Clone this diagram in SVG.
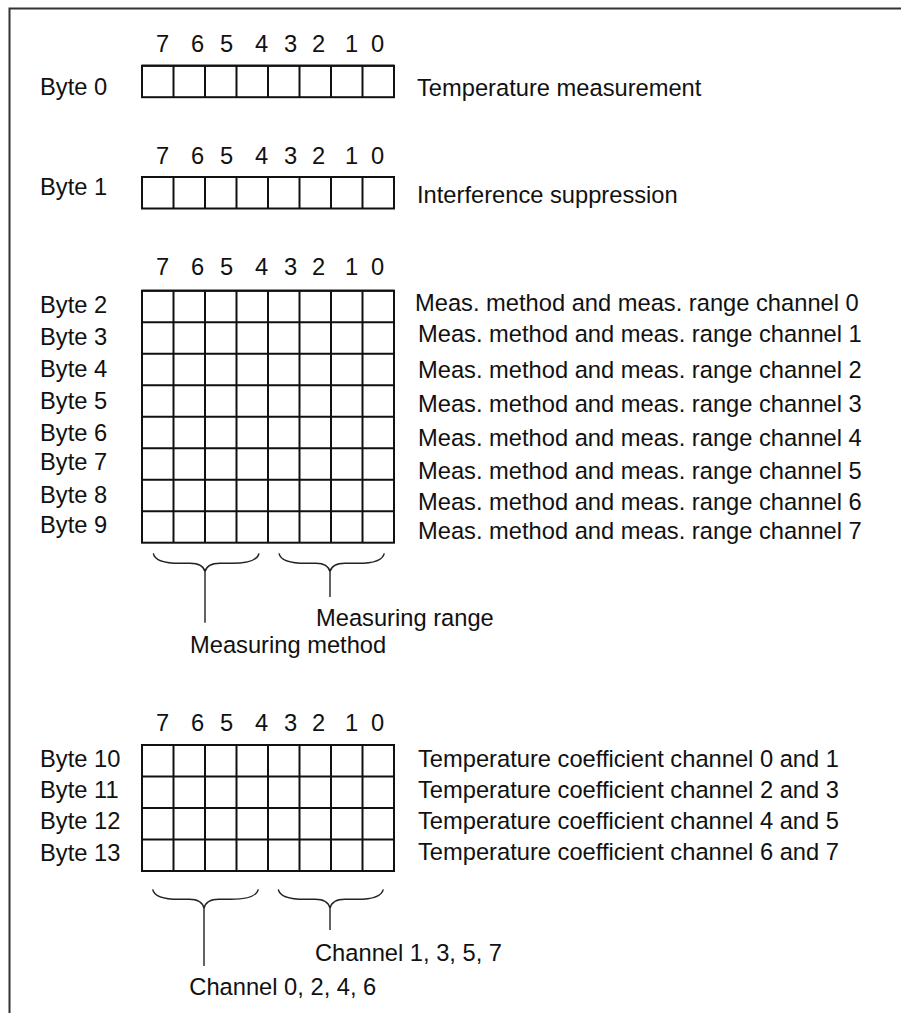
<svg xmlns="http://www.w3.org/2000/svg" width="901" height="1013" viewBox="0 0 901 1013">
<style>
text{font-family:"Liberation Sans",Arial,sans-serif;font-size:23.7px;fill:#111}
.bits{text-anchor:middle}
.grid{fill:none;stroke:#111;stroke-width:2}
.brace{fill:none;stroke:#222;stroke-width:1.4}
.frame{fill:none;stroke:#333;stroke-width:2}
</style>
<defs>
<path id="row8" d="M142,0 H394 M173.5,0 V31.5 M205,0 V31.5 M236.5,0 V31.5 M268,0 V31.5 M299.5,0 V31.5 M331,0 V31.5 M362.5,0 V31.5"/>
</defs>
<rect width="901" height="1013" fill="#fff"/>
<g id="frame">
<path class="frame" d="M9.5,1013 V8.5 H901"/>
</g>

<g id="byte0">
<text class="bits" x="162.7 197.5 226.5 261.5 290.5 318.5 351.5 377.7" y="52">76543210</text>
<text x="40" y="95">Byte 0</text>
<rect class="grid" x="142" y="65.7" width="252" height="31.5"/>
<use href="#row8" class="grid" y="65.7"/>
<text x="417" y="96">Temperature measurement</text>
</g>

<g id="byte1">
<text class="bits" x="162.7 197.5 226.5 261.5 290.5 318.5 351.5 377.7" y="163.5">76543210</text>
<text x="40" y="195">Byte 1</text>
<rect class="grid" x="142" y="177" width="252" height="31.5"/>
<use href="#row8" class="grid" y="177"/>
<text x="417" y="203">Interference suppression</text>
</g>

<g id="bytes2to9">
<text class="bits" x="162.7 197.5 226.5 261.5 290.5 318.5 351.5 377.7" y="275">76543210</text>
<rect class="grid" x="142" y="290.7" width="252" height="252"/>
<use href="#row8" class="grid" y="290.7"/>
<use href="#row8" class="grid" y="322.2"/>
<use href="#row8" class="grid" y="353.7"/>
<use href="#row8" class="grid" y="385.2"/>
<use href="#row8" class="grid" y="416.7"/>
<use href="#row8" class="grid" y="448.2"/>
<use href="#row8" class="grid" y="479.7"/>
<use href="#row8" class="grid" y="511.2"/>
<text x="40" y="313">Byte 2</text>
<text x="40" y="345">Byte 3</text>
<text x="40" y="377">Byte 4</text>
<text x="40" y="409">Byte 5</text>
<text x="40" y="441">Byte 6</text>
<text x="40" y="470">Byte 7</text>
<text x="40" y="503">Byte 8</text>
<text x="40" y="533">Byte 9</text>
<text x="415" y="310.5">Meas. method and meas. range channel 0</text>
<text x="418" y="342">Meas. method and meas. range channel 1</text>
<text x="418" y="378">Meas. method and meas. range channel 2</text>
<text x="418" y="412">Meas. method and meas. range channel 3</text>
<text x="418" y="446">Meas. method and meas. range channel 4</text>
<text x="418" y="478.5">Meas. method and meas. range channel 5</text>
<text x="418" y="510">Meas. method and meas. range channel 6</text>
<text x="418" y="538.5">Meas. method and meas. range channel 7</text>
</g>

<g id="bytes10to13">
<text class="bits" x="162.7 197.5 226.5 261.5 290.5 318.5 351.5 377.7" y="731">76543210</text>
<rect class="grid" x="142" y="745" width="252" height="126"/>
<use href="#row8" class="grid" y="745"/>
<use href="#row8" class="grid" y="776.5"/>
<use href="#row8" class="grid" y="808"/>
<use href="#row8" class="grid" y="839.5"/>
<text x="40" y="767">Byte 10</text>
<text x="40" y="798">Byte 11</text>
<text x="40" y="829">Byte 12</text>
<text x="40" y="861">Byte 13</text>
<text x="418" y="767">Temperature coefficient channel 0 and 1</text>
<text x="418" y="798">Temperature coefficient channel 2 and 3</text>
<text x="418" y="829">Temperature coefficient channel 4 and 5</text>
<text x="418" y="859.5">Temperature coefficient channel 6 and 7</text>
</g>

<g id="connectors">
<path class="brace" d="M153.3,553.3 Q155,563.3 180,563.3 L190,563.3 Q203,563.3 205,571.7 Q207,563.3 220,563.3 L232,563.3 Q257,563.3 259,553.3 M205,571.7 V622.7"/>
<path class="brace" d="M279,553.3 Q281,563.3 306,563.3 L316,563.3 Q328,563.3 330,571.7 Q332,563.3 345,563.3 L358,563.3 Q382,563.3 384.3,553.3 M330,571.7 V597"/>
<path class="brace" d="M152.7,889.3 Q154.5,899.3 179,899.3 L189,899.3 Q202,899.3 204,908.3 Q206,899.3 219,899.3 L231,899.3 Q256,899.3 258.3,889.3 M204,908.3 V966"/>
<path class="brace" d="M278.3,889.3 Q280,899.3 305,899.3 L315,899.3 Q328,899.3 330,908.3 Q332,899.3 345,899.3 L357,899.3 Q381,899.3 383.3,889.3 M330,908.3 V930"/>
</g>

<g id="brace-labels">
<text x="316" y="626">Measuring range</text>
<text x="190" y="653">Measuring method</text>
<text x="315" y="961">Channel 1, 3, 5, 7</text>
<text x="189.3" y="995">Channel 0, 2, 4, 6</text>
</g>
</svg>
